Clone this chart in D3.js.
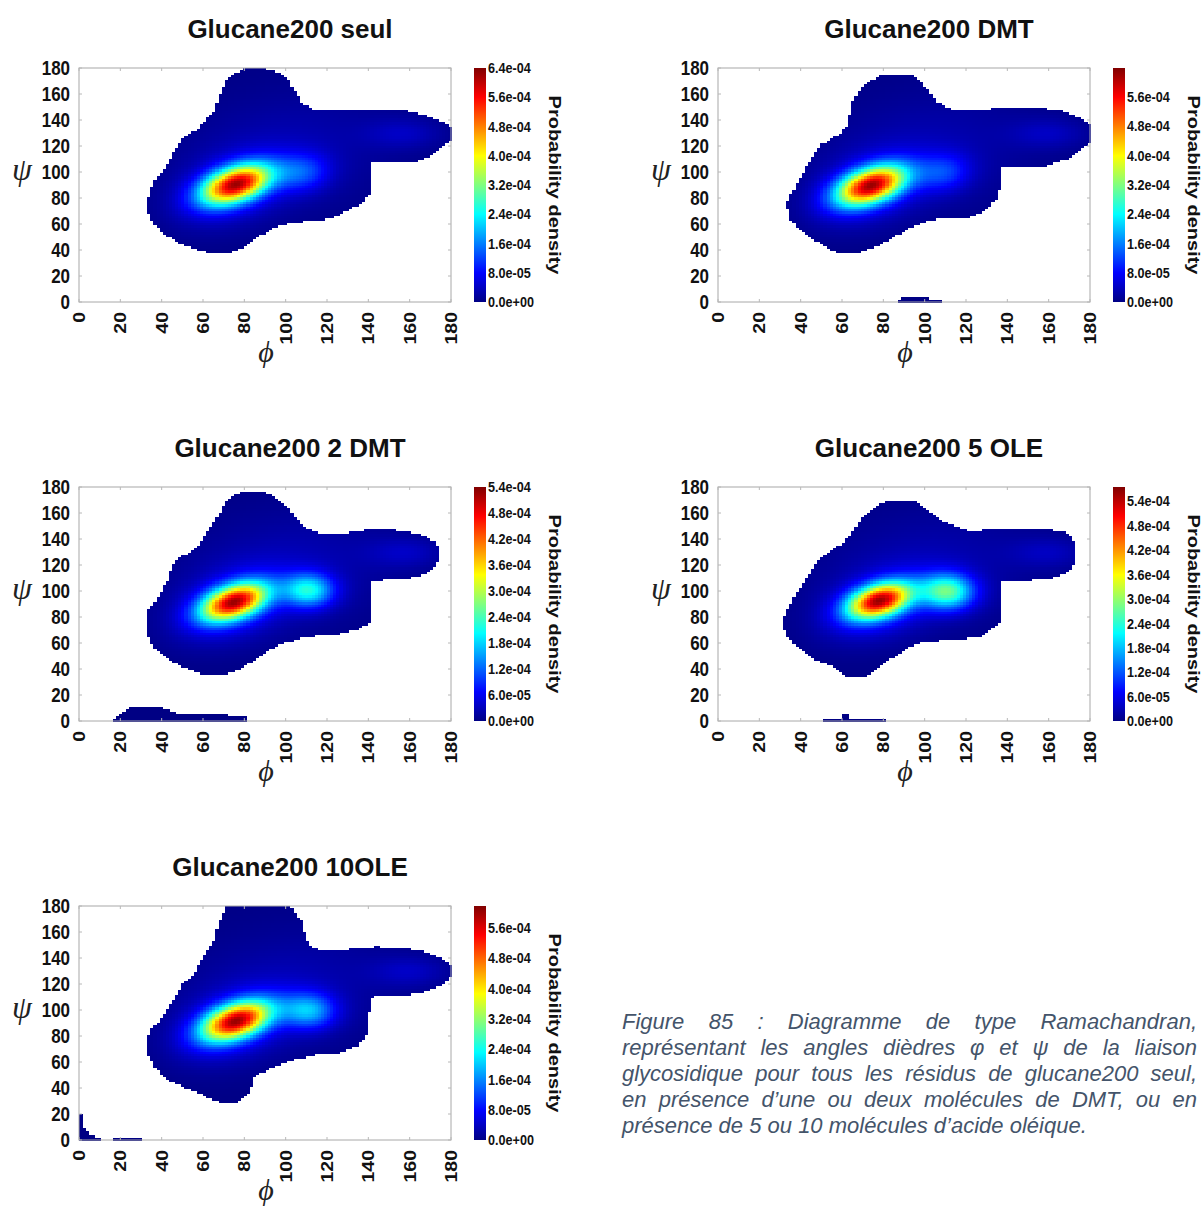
<!DOCTYPE html>
<html><head><meta charset="utf-8">
<script src="https://cdn.jsdelivr.net/npm/d3@7"></script>
<style>body{margin:0;background:#fff;} svg{display:block;}</style>
</head><body>
<svg id="c" width="1203" height="1209"></svg>
<script>
// ---------------- DATA ----------------
const titles = ["Glucane200 seul", "Glucane200 DMT", "Glucane200 2 DMT", "Glucane200 5 OLE", "Glucane200 10OLE"];
const colorMax = [6.4e-4, 6.38e-4, 5.4e-4, 5.75e-4, 6.17e-4];
const colorStep = [8e-5, 8e-5, 6e-5, 6e-5, 8e-5];
const phiTicks = [0, 20, 40, 60, 80, 100, 120, 140, 160, 180];
const psiTicks = [0, 20, 40, 60, 80, 100, 120, 140, 160, 180];

// density peaks: [phi, psi, sdPhi, sdPsi, correlation, amplitude]
const peaksSeul = [[76, 91, 11.5, 10.5, 0.45, 5.2e-4], [74, 88, 17, 18, 0.35, 0.85e-4], [108, 100, 9, 10, 0.1, 1.05e-4], [157, 130, 13, 8, 0, 3.5e-5], [100, 115, 35, 32, 0.2, 3.0e-5]];
const peaksDMT = [[74, 90, 11.5, 10.5, 0.45, 5.2e-4], [73, 88, 17, 18, 0.35, 0.85e-4], [109, 100, 9, 10, 0.1, 0.95e-4], [160, 130, 13, 8, 0, 3.5e-5], [100, 115, 35, 32, 0.2, 3.0e-5]];
const peaks2DMT = [[75, 92, 11, 10, 0.45, 4.3e-4], [74, 90, 17, 18, 0.35, 0.8e-4], [111, 101, 8.5, 9, 0, 1.9e-4], [158, 130, 13, 8, 0, 3.0e-5], [100, 115, 35, 32, 0.2, 2.8e-5]];
const peaks5OLE = [[78, 93, 10.5, 9.5, 0.4, 4.6e-4], [78, 90, 17, 17, 0.35, 0.85e-4], [111, 100, 9, 9.5, 0, 2.45e-4], [160, 130, 13, 8, 0, 3.0e-5], [100, 115, 35, 32, 0.2, 2.8e-5]];
const peaks10OLE = [[76, 92, 11.5, 10.5, 0.45, 5.0e-4], [74, 89, 17, 18, 0.35, 0.85e-4], [111, 100, 9, 9.5, 0, 1.7e-4], [160, 130, 13, 8, 0, 3.5e-5], [100, 115, 35, 32, 0.2, 3.0e-5]];

// outlines of the sampled region (phi, psi)
const outlineSeul = [
  [[71,170],[68,160],[65.5,147],[58,134],[50.6,126.5],[47,119],[43,106],[36.7,93.4],[34,83],[33,73],[35,63],[41,52.7],[50.6,43.8],[63.6,37.4],[71,37],[80,42.5],[87.7,51.4],[95,57.8],[102.5,61.6],[117,62.9],[126.6,68],[136,75.6],[140.5,83],[141,93.4],[140.5,107.4],[160,107.4],[167.4,111],[175,119],[180.5,126.5],[180.5,134],[175,139],[165.6,144],[158,147],[145,147.7],[128.5,147.7],[113.6,148],[108,152],[104,162],[100.7,172],[95,177.5],[89.5,179.5],[80,179.5],[74.7,175]]
];
const outlineDMT = [
  [[73.3,170],[69.6,164.7],[65,154.5],[63,136.7],[58.5,129],[50,121.4],[45.5,111],[41.8,101],[37,88],[33.4,75.6],[34.3,65.4],[40,55.2],[47.3,47.6],[56.6,38.7],[69.6,38.7],[80.7,46.3],[90,55.2],[101,62.9],[110.4,65.4],[121.6,65.4],[129,70.5],[134.6,80.7],[136.4,88.3],[136.4,103.6],[143.8,104.9],[158.7,104.9],[169.8,111.3],[176.3,119],[180.5,125],[180.5,134],[175.4,141.8],[166,147],[156.8,149],[143.8,149.5],[129,148.2],[112.3,148.2],[105.8,153.3],[102,162],[97.4,171],[91.9,175.4],[80.7,175.4]],
  [[87,-0.5],[87.5,2],[89,3.7],[101,3.7],[103,2],[108.6,1.2],[108.6,-0.5]]
];
const outline2DMT = [
  [[76.6,175],[70,167],[67.3,157],[62.7,147],[57,134],[52.5,129],[47,124],[45,119],[43,108.7],[36.7,91],[33,85.8],[33,68],[35.8,57.8],[43.2,47.6],[52.5,40],[60,36],[71,36],[80.3,42.5],[89.5,52.7],[98.8,60.3],[110,65.4],[124.8,66.7],[134,70.5],[140.5,75.6],[141.5,93.4],[141.5,108.7],[154.4,109.2],[161.9,111.3],[169.3,115],[173,121.4],[174.5,129],[173,136.7],[165.6,143],[158,145.6],[145,148.2],[128.5,144.4],[115.5,144.4],[108,149.5],[104.4,157],[99.7,166],[93.3,173.6],[86.8,177],[82,177]],
  [[16.3,-0.5],[16.3,1],[19,3],[22.8,9.4],[25.6,11.5],[37.6,11.5],[43.2,8.1],[48.8,5.6],[54.3,4.8],[71,4.8],[76.6,3.8],[81.2,2.5],[81.8,-0.5]]
];
const outline5OLE = [
  [[77,166],[69.6,157],[65.9,147],[60.3,136.7],[51,127.8],[47.3,121.4],[40,103.6],[34.3,88.3],[31.6,78.2],[32.5,68],[38,57.8],[47.3,47.6],[56.6,41.2],[62.2,34.9],[71.5,34.9],[80.7,45],[90,55.2],[97.4,60.3],[110.4,62.9],[123.4,64.2],[129,66.7],[136.4,75.6],[136.4,96],[136.4,108.7],[147.5,108.7],[158.7,109.2],[168,113.8],[172.6,121.4],[173,136.7],[169,144.4],[160.5,147.4],[145.7,148.2],[129,147],[121.6,145.6],[116,149.5],[106.7,154.5],[102,162],[95.6,168.5],[91.9,170],[84.4,170]],
  [[51,-0.5],[51,1.3],[60,1.3],[60.5,4.8],[63,4.8],[63.5,1.3],[81.7,1.3],[81.7,-0.5]]
];
const outline10OLE = [
  [[71,180.5],[69,172],[67.3,164.5],[65.4,154],[62.7,146.5],[58,136],[56,128.5],[50.6,120.8],[47,110.6],[43.2,102.8],[39.5,92.6],[34,84.8],[33,66.8],[37.6,54],[43.2,46.3],[52.5,39.9],[61.7,33.4],[67.3,29.6],[76.6,29.6],[83,38.6],[84,47.6],[91.4,55.3],[102.5,61.7],[113.6,65.6],[124.8,66.8],[134,72],[138.7,79.7],[139.6,92.6],[141.5,110.6],[158,111.8],[167.4,114.4],[176.7,120.8],[180.5,127.3],[180.5,133.7],[173,141.4],[165.6,145.3],[156.3,147.8],[143.3,148.6],[128.5,146.5],[117.4,145.3],[112.7,147.8],[109,156.8],[108,167],[104.4,174.8],[100.7,180.5]],
  [[-0.5,-0.5],[-0.5,19.5],[1.6,19.5],[1.8,10],[3,7.5],[5,4.5],[8,2.5],[10.5,1.3],[10.5,-0.5]],
  [[16.3,-0.5],[16.3,1.3],[30.6,1.3],[30.6,-0.5]]
];

const captionLines = [
  "Figure 85 : Diagramme de type Ramachandran,",
  "représentant les angles dièdres φ et ψ de la liaison",
  "glycosidique pour tous les résidus de glucane200 seul,",
  "en présence d’une ou deux molécules de DMT, ou en",
  "présence de 5 ou 10 molécules d’acide oléique."
];

// ---------------- LAYOUT / STYLE ----------------
const allPeaks = [peaksSeul, peaksDMT, peaks2DMT, peaks5OLE, peaks10OLE];
const allOutlines = [outlineSeul, outlineDMT, outline2DMT, outline5OLE, outline10OLE];
const PL = 79, PR = 451, PT = 68, PB = 302;
const colOff = [0, 639], rowOff = [0, 419, 838];
const SQ = 0.87;
const SANS = "'Liberation Sans', Arial, Helvetica, sans-serif";
const SERIF = "'Liberation Serif', 'Times New Roman', 'DejaVu Serif', serif";
const jetStops = [0, 0.125, 0.375, 0.625, 0.875, 1];
const jetColors = ["#000084", "#0000ff", "#00ffff", "#ffff00", "#ff0000", "#800000"];
const dPhi = 1.5, dPsi = 1.8;

function density(peaks, phi, psi) {
  let s = 0;
  for (const [m1, m2, s1, s2, r, a] of peaks) {
    const dx = (phi - m1) / s1, dy = (psi - m2) / s2;
    const q = (dx * dx + dy * dy - 2 * r * dx * dy) / (1 - r * r);
    s += a * Math.exp(-0.5 * q);
  }
  return s;
}
function fmtE(v) {
  if (Math.abs(v) < 1e-15) return "0.0e+00";
  const [m, e] = v.toExponential(1).split("e");
  const sign = e[0] === "-" ? "-" : "+";
  let d = e.replace(/[+-]/, "");
  if (d.length < 2) d = "0" + d;
  return m + "e" + sign + d;
}

const svg = d3.select("#c");
svg.append("rect").attr("width", 1203).attr("height", 1209).attr("fill", "#fff");
const defs = svg.append("defs");

titles.forEach((title, i) => {
  const max = colorMax[i], step = colorStep[i];
  const g = svg.append("g").attr("transform", `translate(${colOff[i % 2]},${rowOff[Math.floor(i / 2)]})`);
  const x = d3.scaleLinear().domain([0, 180]).range([PL, PR]);
  const y = d3.scaleLinear().domain([0, 180]).range([PB, PT]);
  const color = d3.scaleLinear().domain(jetStops.map(s => s * max)).range(jetColors).clamp(true);

  // heat cells
  const cells = [];
  for (const p of d3.range(0, 180 - 1e-9, dPhi)) {
    for (const q of d3.range(0, 180 - 1e-9, dPsi)) {
      const c = [p + dPhi / 2, q + dPsi / 2];
      if (allOutlines[i].some(poly => d3.polygonContains(poly, c))) {
        cells.push({ p, q, v: density(allPeaks[i], c[0], c[1]) });
      }
    }
  }
  g.append("g").selectAll("rect").data(cells).join("rect")
    .attr("x", d => x(d.p)).attr("y", d => y(d.q + dPsi))
    .attr("width", x(dPhi) - x(0) + 0.6).attr("height", y(0) - y(dPsi) + 0.6)
    .attr("fill", d => color(d.v)).attr("shape-rendering", "crispEdges");

  // frame and inner ticks
  g.append("rect").attr("x", PL).attr("y", PT).attr("width", PR - PL).attr("height", PB - PT)
    .attr("fill", "none").attr("stroke", "#a8a8a8").attr("stroke-width", 1);
  const tk = g.append("g").attr("stroke", "#b8b8b8").attr("stroke-width", 1);
  phiTicks.forEach(t => {
    tk.append("line").attr("x1", x(t)).attr("x2", x(t)).attr("y1", PB).attr("y2", PB - 3);
    tk.append("line").attr("x1", x(t)).attr("x2", x(t)).attr("y1", PT).attr("y2", PT + 3);
  });
  psiTicks.forEach(t => {
    tk.append("line").attr("y1", y(t)).attr("y2", y(t)).attr("x1", PL).attr("x2", PL + 3);
    tk.append("line").attr("y1", y(t)).attr("y2", y(t)).attr("x1", PR).attr("x2", PR - 3);
  });

  // tick labels
  const lab = g.append("g").attr("font-family", SANS).attr("font-weight", "bold").attr("font-size", 19.5).attr("fill", "#111");
  psiTicks.forEach(t => {
    lab.append("text").attr("transform", `translate(${PL - 9},${y(t)}) scale(${SQ},1)`)
      .attr("text-anchor", "end").attr("dy", "0.36em").text(t);
  });
  phiTicks.forEach(t => {
    lab.append("text").attr("transform", `translate(${x(t)},${PB + 10}) scale(${SQ},1) rotate(-90)`)
      .attr("text-anchor", "end").attr("dy", "0.36em").text(t);
  });

  // axis symbols
  g.append("text").attr("x", 22).attr("y", 180).attr("text-anchor", "middle")
    .attr("font-family", SERIF).attr("font-style", "italic").attr("font-size", 32).attr("fill", "#222").text("ψ");
  g.append("text").attr("x", (PL + PR) / 2 + 1).attr("y", 362).attr("text-anchor", "middle")
    .attr("font-family", SERIF).attr("font-style", "italic").attr("font-size", 30).attr("fill", "#222").text("ϕ");

  // title
  g.append("text").attr("x", PL + 211).attr("y", 38).attr("text-anchor", "middle")
    .attr("font-family", SANS).attr("font-weight", "bold").attr("font-size", 26).attr("fill", "#111").text(title);

  // colorbar
  const gid = "jet" + i;
  const grad = defs.append("linearGradient").attr("id", gid).attr("x1", 0).attr("y1", 1).attr("x2", 0).attr("y2", 0);
  jetStops.forEach((s, k) => grad.append("stop").attr("offset", s).attr("stop-color", jetColors[k]));
  const cy = d3.scaleLinear().domain([0, max]).range([PB, PT]);
  g.append("rect").attr("x", 474).attr("y", PT).attr("width", 12).attr("height", PB - PT).attr("fill", `url(#${gid})`);
  const nT = Math.floor(max / step + 1e-6);
  const cbt = d3.range(0, nT + 1).map(k => k * step);
  const cbl = g.append("g").attr("font-family", SANS).attr("font-weight", "bold").attr("font-size", 14.5).attr("fill", "#111");
  cbt.forEach(v => {
    cbl.append("text").attr("transform", `translate(488,${cy(v)}) scale(${SQ},1)`)
      .attr("dy", "0.36em").text(fmtE(v));
  });
  g.append("text").attr("transform", `translate(555,${(PT + PB) / 2}) scale(${SQ},1) rotate(90)`)
    .attr("text-anchor", "middle").attr("dy", "0.36em")
    .attr("font-family", SANS).attr("font-weight", "bold").attr("font-size", 20).attr("fill", "#111")
    .text("Probability density");
});

// caption (justified)
const capX0 = 622, capX1 = 1197;
const capBase = [1029, 1055, 1081, 1107, 1133];
const cap = svg.append("g").attr("font-family", SANS).attr("font-style", "italic").attr("font-size", 22).attr("fill", "#44546a");
captionLines.forEach((line, k) => {
  const t = cap.append("text").attr("x", capX0).attr("y", capBase[k]).text(line);
  if (k < captionLines.length - 1) {
    const len = t.node().getComputedTextLength();
    const spaces = (line.match(/ /g) || []).length;
    const extra = (capX1 - capX0 - len) / spaces;
    t.attr("word-spacing", extra);
  }
});
</script>
</body></html>
